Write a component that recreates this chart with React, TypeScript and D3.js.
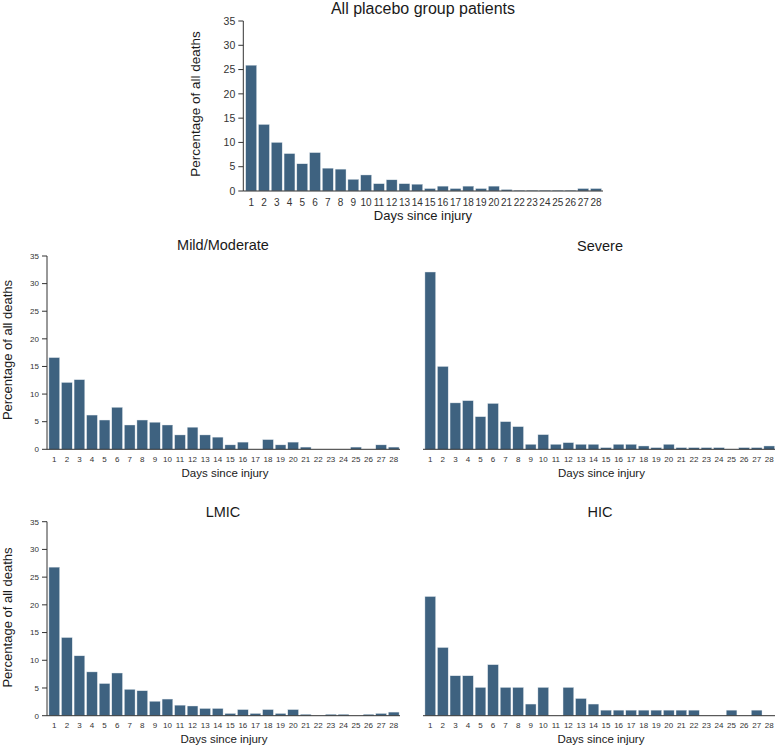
import React from "react";
import * as d3 from "d3";

const days = d3.range(1, 29);
const yTicks = [0, 5, 10, 15, 20, 25, 30, 35];

const allPlacebo = [25.9, 13.7, 10.0, 7.7, 5.6, 7.9, 4.7, 4.5, 2.4, 3.3, 1.5, 2.3, 1.5, 1.4, 0.5, 1.0, 0.5, 1.0, 0.5, 1.0, 0.3, 0.15, 0.15, 0.15, 0.15, 0.15, 0.5, 0.5];
const mildModerate = [16.6, 12.1, 12.6, 6.2, 5.3, 7.6, 4.4, 5.3, 4.9, 4.4, 2.6, 4.0, 2.6, 2.2, 0.8, 1.3, 0, 1.75, 0.8, 1.3, 0.4, 0, 0, 0, 0.4, 0, 0.8, 0.4];
const severe = [32.1, 15.0, 8.4, 8.8, 5.9, 8.3, 5.0, 4.1, 0.9, 2.65, 0.9, 1.2, 0.9, 0.9, 0.3, 0.9, 0.9, 0.6, 0.3, 0.9, 0.3, 0.3, 0.3, 0.3, 0, 0.3, 0.3, 0.6];
const lmic = [26.8, 14.1, 10.8, 7.9, 5.8, 7.7, 4.75, 4.5, 2.6, 3.0, 1.9, 1.75, 1.3, 1.3, 0.4, 1.1, 0.4, 1.1, 0.4, 1.1, 0.25, 0, 0.25, 0.25, 0, 0.25, 0.4, 0.65];
const hic = [21.5, 12.3, 7.2, 7.2, 5.1, 9.2, 5.1, 5.1, 2.1, 5.1, 0, 5.1, 3.1, 2.1, 1.0, 1.0, 1.0, 1.0, 1.0, 1.0, 1.0, 1.0, 0, 0, 1.0, 0, 1.0, 0];

const BAR = "#3e6280";
const FONT = "'Liberation Sans', Arial, sans-serif";

type PanelProps = {
  title: string;
  values: number[];
  x0: number; x1: number; axisX: number; lineEnd: number;
  yBase: number; yTop: number;
  showY: boolean;
  titleX: number; titleY: number; titleSize: number;
  tickSize: number; tickY: number; yTickSize?: number;
  xLabelX: number; xLabelY: number; xLabelSize: number;
  yLabelX?: number; yLabelY?: number; yLabelSize?: number;
};

function Panel(p: PanelProps) {
  const x = d3.scaleBand<number>().domain(days).range([p.x0, p.x1]).paddingInner(0.15).paddingOuter(0.075);
  const y = d3.scaleLinear().domain([0, 35]).range([p.yBase, p.yTop]);
  return (
    <g fontFamily={FONT}>
      <text x={p.titleX} y={p.titleY} textAnchor="middle" fontSize={p.titleSize} fill="#1a1a1a">{p.title}</text>
      {days.map((d, i) => {
        const v = p.values[i];
        if (v <= 0) return null;
        return (
          <rect key={d} x={x(d)} y={y(v)} width={x.bandwidth()} height={y(0) - y(v)} fill={BAR} stroke="#dfe6ec" strokeWidth={0.4} />
        );
      })}
      <line x1={p.axisX} x2={p.lineEnd} y1={y(0)} y2={y(0)} stroke="#333" strokeWidth={1} />
      {days.map((d) => (
        <text key={d} x={(x(d) as number) + x.bandwidth() / 2} y={p.tickY} textAnchor="middle" fontSize={p.tickSize} fill="#333">{d}</text>
      ))}
      <text x={p.xLabelX} y={p.xLabelY} textAnchor="middle" fontSize={p.xLabelSize} fill="#1a1a1a">Days since injury</text>
      {p.showY && (
        <g>
          <line x1={p.axisX} x2={p.axisX} y1={y(0)} y2={y(35)} stroke="#333" strokeWidth={1} />
          {yTicks.map((t) => (
            <g key={t}>
              <line x1={p.axisX - 5} x2={p.axisX} y1={y(t)} y2={y(t)} stroke="#333" strokeWidth={1} />
              <text x={p.axisX - 8} y={y(t)} dy="0.35em" textAnchor="end" fontSize={p.yTickSize ?? p.tickSize} fill="#333">{t}</text>
            </g>
          ))}
          <text transform={`translate(${p.yLabelX},${p.yLabelY}) rotate(-90)`} textAnchor="middle" dominantBaseline="central" fontSize={p.yLabelSize} fill="#1a1a1a">Percentage of all deaths</text>
        </g>
      )}
    </g>
  );
}

export default function App() {
  return (
    <svg width={778} height={746} style={{ position: "absolute", left: 0, top: 0, background: "#fff" }}>
      <rect width={778} height={746} fill="#fff" />
      <Panel title="All placebo group patients" values={allPlacebo}
        x0={244.8} x1={602.4} axisX={243.3} lineEnd={603}
        yBase={191} yTop={21} showY
        titleX={423} titleY={14} titleSize={16}
        tickSize={10} yTickSize={10.5} tickY={205.5}
        xLabelX={423} xLabelY={219.5} xLabelSize={13}
        yLabelX={195} yLabelY={104} yLabelSize={13.5} />
      <Panel title="Mild/Moderate" values={mildModerate}
        x0={48} x1={400} axisX={47} lineEnd={400}
        yBase={449.3} yTop={256} showY
        titleX={223} titleY={250} titleSize={14.5}
        tickSize={8} tickY={462}
        xLabelX={225} xLabelY={476.5} xLabelSize={11.5}
        yLabelX={7.5} yLabelY={350} yLabelSize={13} />
      <Panel title="Severe" values={severe}
        x0={424} x1={775.5} axisX={423} lineEnd={775}
        yBase={449.3} yTop={256} showY={false}
        titleX={600} titleY={250.5} titleSize={14.5}
        tickSize={8} tickY={462}
        xLabelX={601.5} xLabelY={476.5} xLabelSize={11.5} />
      <Panel title="LMIC" values={lmic}
        x0={48} x1={400} axisX={47} lineEnd={400}
        yBase={715.7} yTop={521.7} showY
        titleX={223} titleY={516.7} titleSize={14.5}
        tickSize={8} tickY={728.4}
        xLabelX={224} xLabelY={742.7} xLabelSize={11.5}
        yLabelX={7.5} yLabelY={617.5} yLabelSize={13} />
      <Panel title="HIC" values={hic}
        x0={424} x1={775.5} axisX={423} lineEnd={775}
        yBase={715.7} yTop={521.7} showY={false}
        titleX={600} titleY={516.7} titleSize={14.5}
        tickSize={8} tickY={728.4}
        xLabelX={601} xLabelY={742.7} xLabelSize={11.5} />
    </svg>
  );
}
